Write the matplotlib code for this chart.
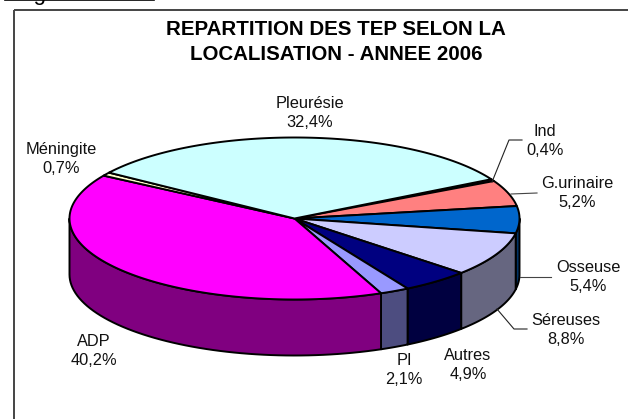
import numpy as np
import matplotlib.pyplot as plt
from matplotlib.patches import Polygon, Rectangle

labels = ["Ind", "G.urinaire", "Osseuse", "Séreuses", "Autres", "PI", "ADP", "Méningite", "Pleurésie"]
values = [0.4, 5.2, 5.4, 8.8, 4.9, 2.1, 40.2, 0.7, 32.4]
value_text = ["0,4%", "5,2%", "5,4%", "8,8%", "4,9%", "2,1%", "40,2%", "0,7%", "32,4%"]
top_colors = ["#660066", "#FF8080", "#0066CC", "#CCCCFF", "#000080", "#9999FF", "#FF00FF", "#FFFFCC", "#CCFFFF"]
side_colors = ["#330033", "#804040", "#003366", "#666680", "#000040", "#4D4D80", "#800080", "#808066", "#668080"]

# ou vont les etiquettes (pixels)
label_pos = [(545, 141), (577, 193), (588, 277), (566, 330), (468, 365), (404, 370), (94, 351), (61, 159), (310, 113)]

plt.rcParams["font.family"] = ["Liberation Sans", "DejaVu Sans"]

fig = plt.figure(figsize=(6.28, 4.19), dpi=100)
ax = fig.add_axes([0, 0, 1, 1])
ax.set_xlim(0, 628)
ax.set_ylim(419, 0)
ax.axis("off")

cx, cy, rx, ry, depth = 294.5, 218.5, 225, 81, 56
start = 29.0

# cadre et trait du haut (le cadre sort de l'image a droite et en bas)
ax.add_patch(Rectangle((14, 10), 640, 430, fill=False, ec="#444444", lw=1.4))
ax.plot([5, 154], [0.5, 0.5], color="black", lw=1.2)
ax.text(15, 0, "Figure", ha="left", va="baseline", fontsize=16, color="black")


def ell(t, dy=0):
    t = np.radians(t)
    return cx + rx * np.cos(t), cy - ry * np.sin(t) + dy


angles = start - np.cumsum([0] + values) * 360 / sum(values)

# faces laterales
for i in range(len(values)):
    a, b = angles[i], angles[i + 1]
    # partie visible : entre 0 et -180 deg
    a2, b2 = min(a, 0), max(b, -180)
    if a2 <= b2:
        continue
    t = np.linspace(a2, b2, 60)
    x, y = ell(t)
    x2, y2 = ell(t[::-1], depth)
    pts = np.column_stack([np.r_[x, x2], np.r_[y, y2]])
    ax.add_patch(Polygon(pts, closed=True, fc=side_colors[i], ec="black", lw=1.4, joinstyle="round"))

# dessus
for i in range(len(values)):
    t = np.linspace(angles[i], angles[i + 1], 120)
    x, y = ell(t)
    pts = np.column_stack([np.r_[cx, x], np.r_[cy, y]])
    ax.add_patch(Polygon(pts, closed=True, fc=top_colors[i], ec="black", lw=1.4, joinstyle="round"))

# traits de rappel
ax.plot([492, 509, 522], [182, 140, 140], color="#222222", lw=0.8)
ax.plot([511, 537], [194, 193], color="#444444", lw=0.8)
ax.plot([520, 551], [277, 277], color="#444444", lw=0.8)
ax.plot([497, 514, 527], [309, 329, 329], color="#222222", lw=0.8)

for name, val, (x, y) in zip(labels, value_text, label_pos):
    ax.text(x, y, name + "\n" + val, ha="center", va="center", fontsize=11.8, color="#111111", linespacing=1.32)

ax.text(336, 42, "REPARTITION DES TEP SELON LA\nLOCALISATION - ANNEE 2006", ha="center", va="center",
        fontsize=14.8, fontweight="bold", color="black", linespacing=1.45)

fig.savefig("out.png", dpi=100)
